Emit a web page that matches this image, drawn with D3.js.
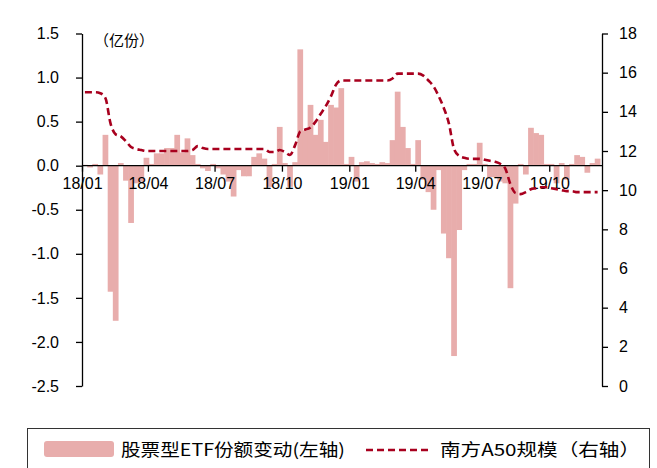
<!DOCTYPE html>
<html>
<head>
<meta charset="utf-8">
<script src="https://cdn.jsdelivr.net/npm/d3@7"></script>
<style>
  body { margin: 0; background: #fff; }
  svg { display: block; font-family: "Liberation Sans", Arial, sans-serif; }
</style>
</head>
<body>
<svg id="chart" width="657" height="468"></svg>
<script>
// weekly observations, first week ending 2018-01-05
const firstWeek = '2018-01-05';
// 股票型ETF份额变动 (亿份), left axis
const etfChange = [
  0.01, -0.02, 0.02, -0.1, 0.35, -1.43, -1.76, 0.03, -0.17, -0.65,
  -0.2, -0.18, 0.09, 0.02, 0.14, 0.14, 0.2, 0.2, 0.35, 0.15,
  0.31, 0.12, 0.02, -0.03, -0.06, 0.02, -0.03, -0.1, -0.18, -0.35,
  -0.05, -0.12, -0.12, 0.1, 0.14, 0.08, -0.24, 0.02, 0.44, 0.03,
  -0.24, 0.04, 1.32, 0.4, 0.69, 0.35, 0.52, 0.27, 0.69, 0.66,
  0.88, 0.02, 0.1, -0.18, 0.04, 0.05, 0.03, 0.02, 0.04, 0.03,
  0.29, 0.84, 0.44, 0.2, 0.02, 0.29, -0.16, -0.3, -0.5, -0.05,
  -0.77, -1.05, -2.16, -0.73, -0.05, 0.02, 0.02, 0.26, 0.02, -0.13,
  -0.13, -0.18, -0.2, -1.39, -0.43, 0.02, -0.1, 0.43, 0.37, 0.35,
  0.02, 0.02, -0.2, 0.03, -0.16, 0.02, 0.12, 0.1, -0.08, 0.03,
  0.08
];
// 南方A50规模, right axis
const a50Scale = [
  15.0, 15.0, 15.0, 14.95, 14.7, 13.4, 12.85, 12.75, 12.5, 12.2,
  12.1, 12.05, 12.0, 12.0, 12.0, 12.0, 12.0, 12.0, 12.0, 12.0,
  12.0, 12.05, 12.25, 12.15, 12.1, 12.1, 12.1, 12.1, 12.1, 12.1,
  12.1, 12.1, 12.1, 12.1, 12.1, 12.1, 11.95, 11.95, 12.05, 11.95,
  11.8, 12.3, 13.0, 13.1, 13.2, 13.5, 13.9, 14.3, 14.8, 15.4,
  15.6, 15.6, 15.6, 15.6, 15.6, 15.6, 15.6, 15.6, 15.6, 15.6,
  15.7, 15.95, 15.95, 15.95, 15.95, 15.95, 15.85, 15.6, 15.3, 14.8,
  14.2, 13.4, 12.1, 11.75, 11.65, 11.6, 11.6, 11.6, 11.55, 11.5,
  11.45, 11.35, 11.1, 10.3, 9.85, 9.8, 9.9, 10.05, 10.1, 10.15,
  10.15, 10.1, 10.05, 10.0, 9.95, 9.95, 9.9, 9.9, 9.9, 9.9,
  9.9
];
const leftTicks = [-2.5, -2.0, -1.5, -1.0, -0.5, 0.0, 0.5, 1.0, 1.5];
const rightTicks = [0, 2, 4, 6, 8, 10, 12, 14, 16, 18];
const unitLabel = '（亿份）';
const barLabel = '股票型ETF份额变动(左轴)';
const lineLabel = '南方A50规模（右轴）';

const barColor = '#e8adac';
const lineColor = '#a8001e';

const svg = d3.select('#chart');
const plotL = 82, plotR = 602, plotT = 33.5, plotB = 386;

const start = d3.timeParse('%Y-%m-%d')(firstWeek);
const weeks = etfChange.map((v, i) => d3.timeWeek.offset(start, i));

const x = d3.scaleTime()
  .domain([new Date(2018, 0, 1), new Date(2019, 11, 12)])
  .range([plotL, plotR]);
const yL = d3.scaleLinear().domain([-2.5, 1.5]).range([plotB, plotT]);
const yR = d3.scaleLinear().domain([0, 18]).range([plotB, plotT]);

const step = x(d3.timeWeek.offset(start, 1)) - x(start);

// bars
svg.append('g')
  .selectAll('rect')
  .data(etfChange)
  .join('rect')
  .attr('x', (d, i) => x(weeks[i]) - step / 2 - 0.3)
  .attr('width', step + 0.6)
  .attr('y', d => yL(Math.max(0, d)))
  .attr('height', d => Math.abs(yL(d) - yL(0)))
  .attr('fill', barColor);

const fmt = d => d3.format('.1f')(d).replace('−', '-');

// left axis
const gL = svg.append('g')
  .attr('transform', `translate(${plotL},0)`)
  .call(d3.axisLeft(yL).tickValues(leftTicks).tickFormat(fmt).tickSize(6).tickPadding(17).tickSizeOuter(0));
// right axis
const gR = svg.append('g')
  .attr('transform', `translate(${plotR},0)`)
  .call(d3.axisRight(yR).tickValues(rightTicks).tickSize(6).tickPadding(11).tickSizeOuter(0));
// x axis along zero
const gX = svg.append('g')
  .attr('transform', `translate(0,${yL(0)})`)
  .call(d3.axisBottom(x).ticks(d3.timeMonth.every(3)).tickFormat(d3.timeFormat('%y/%m')).tickSize(6).tickPadding(6).tickSizeOuter(0));

[gL, gR, gX].forEach(g => {
  g.selectAll('path, line').attr('stroke', '#000').attr('stroke-width', 1.3);
  g.selectAll('text').attr('fill', '#000').style('font-size', '16px');
});
gX.select('.domain').attr('d', `M${plotL},0H${plotR}`);

// dashed line
const line = d3.line()
  .x((d, i) => x(weeks[i]))
  .y(d => yR(d))
  .curve(d3.curveMonotoneX);
svg.append('path')
  .datum(a50Scale)
  .attr('d', line)
  .attr('fill', 'none')
  .attr('stroke', lineColor)
  .attr('stroke-width', 2.6)
  .attr('stroke-dasharray', '7,4');

// unit label
svg.append('text')
  .attr('x', 94).attr('y', 46)
  .style('font-family', '"Noto Sans CJK SC", sans-serif')
  .style('font-size', '15px')
  .text(unitLabel);

// legend
const lg = svg.append('g');
lg.append('rect')
  .attr('x', 27.5).attr('y', 428.5).attr('width', 622).attr('height', 60)
  .attr('fill', 'none').attr('stroke', '#333').attr('stroke-width', 1);
lg.append('rect')
  .attr('x', 44).attr('y', 441).attr('width', 70).attr('height', 16).attr('rx', 3)
  .attr('fill', barColor);
lg.append('text')
  .attr('x', 121).attr('y', 456)
  .attr('textLength', 224).attr('lengthAdjust', 'spacingAndGlyphs')
  .style('font-family', '"Noto Sans CJK SC", sans-serif')
  .style('font-size', '17px')
  .text(barLabel);
lg.append('line')
  .attr('x1', 366).attr('x2', 430).attr('y1', 450).attr('y2', 450)
  .attr('stroke', lineColor).attr('stroke-width', 2.6).attr('stroke-dasharray', '7,4');
lg.append('text')
  .attr('x', 440).attr('y', 456)
  .attr('textLength', 200).attr('lengthAdjust', 'spacingAndGlyphs')
  .style('font-family', '"Noto Sans CJK SC", sans-serif')
  .style('font-size', '17px')
  .text(lineLabel);
</script>
</body>
</html>
